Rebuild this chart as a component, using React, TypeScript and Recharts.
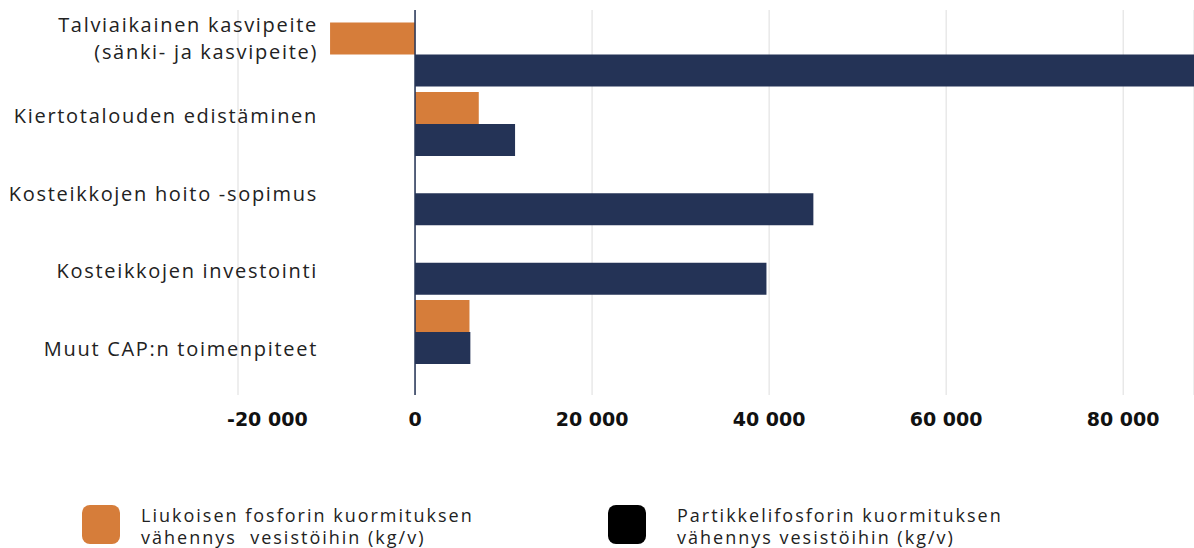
import { Bar, BarChart, CartesianGrid, ReferenceLine, XAxis, YAxis } from "recharts";

const categories = [
  "Talviaikainen kasvipeite\n(sänki- ja kasvipeite)",
  "Kiertotalouden edistäminen",
  "Kosteikkojen hoito -sopimus",
  "Kosteikkojen investointi",
  "Muut CAP:n toimenpiteet",
];
const liukoinenP = [-9600, 7200, 0, 0, 6150];
const partikkeliP = [90000, 11300, 45000, 39700, 6250];
const xTicks = [-20000, 0, 20000, 40000, 60000, 80000];

const legendItems = [
  { color: "#D67D3A", left: 82, textLeft: 141, lines: ["Liukoisen fosforin kuormituksen", "vähennys  vesistöihin (kg/v)"] },
  { color: "#000000", left: 608, textLeft: 677, lines: ["Partikkelifosforin kuormituksen", "vähennys vesistöihin (kg/v)"] },
];

const ORANGE = "#D67D3A";
const NAVY = "#243356";
const LABEL_RIGHT = 318;
// labels sit on a slightly wider rhythm than the bar pairs
const BAND_TOP = 19.5;
const LABEL_TOP = -0.25;
const LABEL_STRETCH = 77.5 / 69.4;

const data = categories.map((name, i) => ({
  name,
  liukoinen: liukoinenP[i],
  partikkeli: partikkeliP[i],
}));

const fmt = (v: number) =>
  (v < 0 ? "-" : "") + String(Math.abs(v)).replace(/\B(?=(\d{3})+(?!\d))/g, " ");

function CategoryTick(props: any) {
  const { y, payload } = props;
  const lines = String(payload?.value ?? "").split("\n");
  const ly = LABEL_TOP + (Number(y) - BAND_TOP) * LABEL_STRETCH;
  const first = 7 - ((lines.length - 1) * 27) / 2;
  return (
    <text
      x={LABEL_RIGHT}
      y={ly}
      textAnchor="end"
      fontFamily="'Open Sans'"
      fontSize={20}
      letterSpacing={1.7}
      fill="#222"
    >
      {lines.map((l, i) => (
        <tspan key={i} x={LABEL_RIGHT} dy={i === 0 ? first : 27}>
          {l}
        </tspan>
      ))}
    </text>
  );
}

function ValueTick({ x, y, payload }: any) {
  const neg = payload.value < 0;
  return (
    <text
      x={neg ? x - 11 : x}
      y={y}
      dy="0.71em"
      textAnchor={neg ? "start" : "middle"}
      fontFamily="'DejaVu Sans'"
      fontWeight={700}
      fontSize={19}
      fill="#111"
    >
      {fmt(payload.value)}
    </text>
  );
}

export default function App() {
  return (
    <div style={{ position: "absolute", left: 0, top: 0, width: 1194, height: 548, background: "#fff" }}>
      <BarChart
        width={1194}
        height={548}
        data={data}
        layout="vertical"
        margin={{ top: 10, right: 0, left: 178, bottom: 113 }}
        barGap={0}
        barSize={32}
      >
        <CartesianGrid horizontal={false} stroke="#dddddd" />
        <XAxis
          type="number"
          domain={[-20000, 88000]}
          ticks={xTicks}
          allowDataOverflow
          axisLine={false}
          tickLine={false}
          tickSize={0}
          tickMargin={18}
          height={40}
          tick={<ValueTick />}
        />
        <YAxis
          type="category"
          dataKey="name"
          width={60}
          axisLine={false}
          tickLine={false}
          tick={CategoryTick}
          interval={0}
          padding={{ top: 9.5, bottom: 28.5 }}
        />
        <Bar dataKey="liukoinen" fill={ORANGE} isAnimationActive={false} />
        <Bar dataKey="partikkeli" fill={NAVY} isAnimationActive={false} />
        <ReferenceLine x={0} stroke={NAVY} strokeWidth={1.5} />
      </BarChart>
      {legendItems.map((item, i) => (
        <div key={i}>
          <span
            style={{
              position: "absolute",
              left: item.left,
              top: 505,
              width: 38,
              height: 39,
              borderRadius: 8,
              background: item.color,
            }}
          />
          <div
            style={{
              position: "absolute",
              left: item.textLeft,
              top: 504,
              fontFamily: "'Open Sans'",
              fontSize: 18,
              letterSpacing: 2,
              lineHeight: "22px",
              color: "#222",
            }}
          >
            {item.lines.map((l, j) => (
              <div key={j} style={{ whiteSpace: "pre" }}>
                {l}
              </div>
            ))}
          </div>
        </div>
      ))}
    </div>
  );
}
